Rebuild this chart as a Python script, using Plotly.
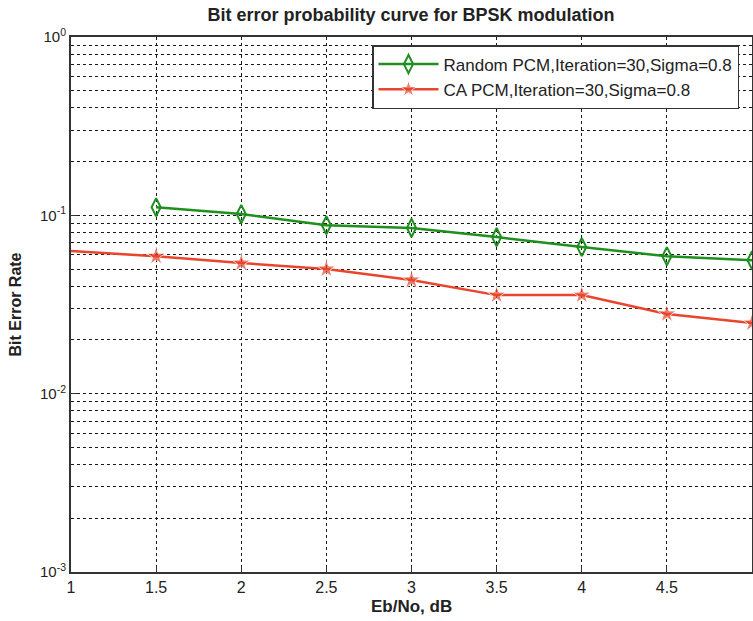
import plotly.graph_objects as go

snr_random = [1.5, 2, 2.5, 3, 3.5, 4, 4.5, 5]
ber_random = [0.111, 0.1016, 0.088, 0.085, 0.0755, 0.0664, 0.059, 0.056]
snr_ca = [1, 1.5, 2, 2.5, 3, 3.5, 4, 4.5, 5]
ber_ca = [0.063, 0.059, 0.054, 0.050, 0.0434, 0.0357, 0.0357, 0.028, 0.0249]
x_ticks = [1, 1.5, 2, 2.5, 3, 3.5, 4, 4.5, 5]
x_ticklabels = ["1", "1.5", "2", "2.5", "3", "3.5", "4", "4.5", "5"]
y_ticks = [1e-3, 1e-2, 1e-1, 1]
y_ticklabels = ["10<sup>-3</sup>", "10<sup>-2</sup>", "10<sup>-1</sup>", "10<sup>0</sup>"]
y_minor = [m * 10 ** e for e in (-3, -2, -1) for m in range(2, 10)]

green = "#1f8f1f"
red = "#e8452c"
ink = "#222222"

fig = go.Figure()
fig.add_trace(go.Scatter(
    x=snr_random, y=ber_random, mode="lines+markers",
    name="Random PCM,Iteration=30,Sigma=0.8",
    line=dict(color=green, width=2.5),
    marker=dict(symbol="diamond-tall-open", size=13, color=green, line=dict(width=2, color=green)),
))
fig.add_trace(go.Scatter(
    x=snr_ca, y=ber_ca, mode="lines+markers",
    name="CA PCM,Iteration=30,Sigma=0.8",
    line=dict(color=red, width=2.5),
    marker=dict(symbol="star", size=[0] + [14] * 8, color=red),
))

grid = dict(gridcolor="#1a1a1a", griddash="3px,3px", gridwidth=1.2)

fig.update_layout(
    width=753, height=621,
    margin=dict(l=71, r=1, t=37, b=49, autoexpand=False),
    paper_bgcolor="white", plot_bgcolor="white",
    font=dict(family="Liberation Sans, Arial, sans-serif", size=16, color=ink),
    title=dict(text="<b>Bit error probability curve for BPSK modulation</b>",
               x=0.5458, xanchor="center", y=0.9758, yanchor="middle",
               font=dict(size=18, color=ink)),
    showlegend=True,
    legend=dict(x=0.442, xanchor="left", y=0.985, yanchor="top",
                bgcolor="white", bordercolor="#333333", borderwidth=1.5,
                font=dict(size=17, color=ink), itemwidth=60,
                tracegroupgap=0),
    xaxis=dict(
        range=[1, 5], tickvals=x_ticks, ticktext=x_ticklabels, automargin=False,
        showline=True, linecolor="#333333", linewidth=2, mirror=True,
        ticks="inside", ticklen=6, tickcolor="#333333",
        showgrid=True, zeroline=False, **grid,
        tickfont=dict(size=16),
    ),
    yaxis=dict(
        type="log", range=[-3, 0], tickvals=y_ticks, ticktext=y_ticklabels, automargin=False,
        showline=True, linecolor="#333333", linewidth=2, mirror=True,
        ticks="inside", ticklen=6, tickcolor="#333333",
        showgrid=True, zeroline=False, **grid,
        minor=dict(tickvals=y_minor, showgrid=True, ticks="",
                   gridcolor="#1a1a1a", griddash="3px,3px", gridwidth=1.2),
        tickfont=dict(size=15),
    ),
    annotations=[
        dict(text="<b>Eb/No, dB</b>", xref="paper", yref="paper", x=0.5, y=-0.0654,
             xanchor="center", yanchor="middle", showarrow=False, font=dict(size=17, color=ink)),
        dict(text="<b>Bit Error Rate</b>", xref="paper", yref="paper", x=-0.0822, y=0.5,
             xanchor="center", yanchor="middle", textangle=-90, showarrow=False,
             font=dict(size=16, color=ink)),
    ],
)

fig.write_html("out.html", config={"displayModeBar": False},
               post_script="document.body.style.margin='0';document.body.style.overflow='hidden';")
